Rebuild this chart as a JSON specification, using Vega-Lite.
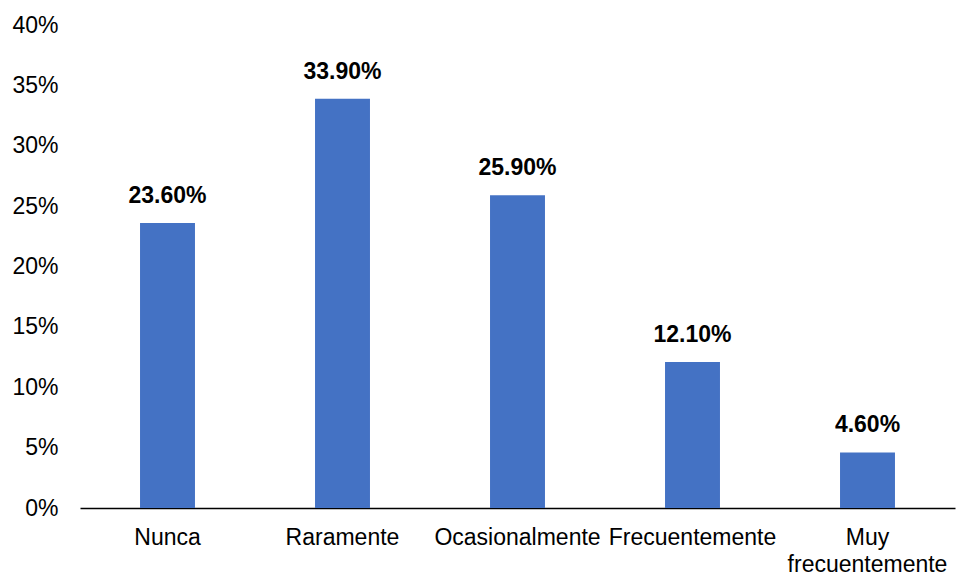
{
  "$schema": "https://vega.github.io/schema/vega-lite/v6.json",
  "width": 875,
  "height": 483,
  "autosize": "none",
  "padding": {"left": 80, "top": 25, "right": 3, "bottom": 71},
  "background": "white",
  "config": {
    "view": {"stroke": null},
    "font": "Liberation Sans"
  },
  "data": {
    "values": [
      {"categoria": "Nunca", "valor": 0.236},
      {"categoria": "Raramente", "valor": 0.339},
      {"categoria": "Ocasionalmente", "valor": 0.259},
      {"categoria": "Frecuentemente", "valor": 0.121},
      {"categoria": "Muy frecuentemente", "valor": 0.046}
    ]
  },
  "encoding": {
    "x": {
      "field": "categoria",
      "type": "nominal",
      "sort": null,
      "scale": {"paddingInner": 0.686, "paddingOuter": 0.343},
      "axis": {
        "title": null,
        "labelAngle": 0,
        "labelFontSize": 23,
        "labelColor": "#000000",
        "labelFont": "Liberation Sans",
        "labelPadding": 18,
        "labelLineHeight": 27,
        "labelLimit": 300,
        "labelOverlap": false,
        "ticks": false,
        "domainColor": "#000000",
        "domainWidth": 1.5,
        "labelExpr": "datum.label == 'Muy frecuentemente' ? ['Muy', 'frecuentemente'] : datum.label"
      }
    },
    "y": {
      "field": "valor",
      "type": "quantitative",
      "scale": {"domain": [0, 0.4], "nice": false},
      "axis": {
        "title": null,
        "format": ".0%",
        "values": [0, 0.05, 0.1, 0.15, 0.2, 0.25, 0.3, 0.35, 0.4],
        "grid": false,
        "domain": false,
        "ticks": false,
        "labelFontSize": 23,
        "labelColor": "#000000",
        "labelFont": "Liberation Sans",
        "labelPadding": 22
      }
    }
  },
  "layer": [
    {
      "mark": {"type": "bar", "color": "#4472C4"}
    },
    {
      "mark": {
        "type": "text",
        "baseline": "alphabetic",
        "dy": -20,
        "fontSize": 23,
        "fontWeight": "bold",
        "color": "#000000",
        "font": "Liberation Sans"
      },
      "encoding": {
        "text": {"field": "valor", "type": "quantitative", "format": ".2%"}
      }
    }
  ]
}
